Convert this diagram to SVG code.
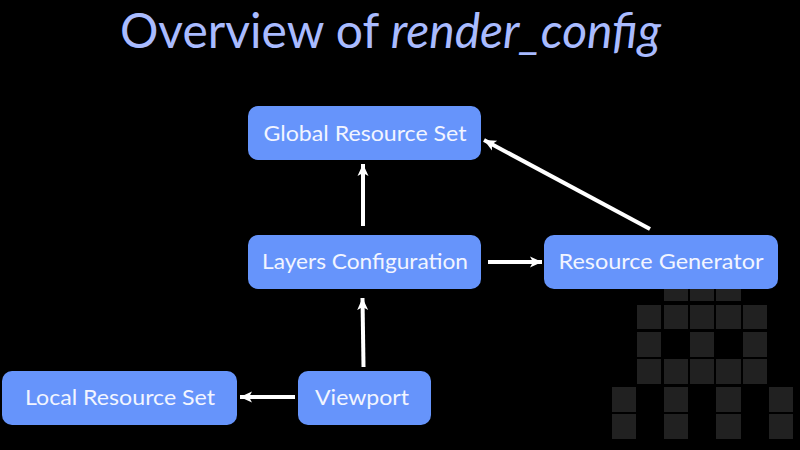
<svg xmlns="http://www.w3.org/2000/svg" width="800" height="450" viewBox="0 0 800 450">
<style>
.box{fill:#6694fb}
.lbl{font-family:"Lato","Noto Sans",sans-serif;font-size:22px;fill:#f2f5ff;text-anchor:middle}
.pix{fill:#212121}
.ln{stroke:#fff;stroke-width:4;fill:none;marker-end:url(#a)}
</style>
<defs>
<marker id="a" markerUnits="userSpaceOnUse" markerWidth="14" markerHeight="14" refX="12" refY="7" orient="auto">
<path d="M0 1.5L12 7L0 12.5L3 7Z" fill="#fff"/>
</marker>
</defs>
<rect width="800" height="450" fill="#000"/>
<g id="watermark">
<rect class="pix" x="664" y="278" width="24" height="23"/><rect class="pix" x="690" y="278" width="24" height="23"/><rect class="pix" x="716" y="278" width="25" height="23"/>
<rect class="pix" x="637" y="305" width="24" height="24"/><rect class="pix" x="664" y="305" width="24" height="24"/><rect class="pix" x="690" y="305" width="24" height="24"/><rect class="pix" x="716" y="305" width="25" height="24"/><rect class="pix" x="743" y="305" width="24" height="24"/>
<rect class="pix" x="637" y="332" width="24" height="25"/><rect class="pix" x="690" y="332" width="24" height="25"/><rect class="pix" x="743" y="332" width="24" height="25"/>
<rect class="pix" x="637" y="359" width="24" height="25"/><rect class="pix" x="664" y="359" width="24" height="25"/><rect class="pix" x="690" y="359" width="24" height="25"/><rect class="pix" x="716" y="359" width="25" height="25"/><rect class="pix" x="743" y="359" width="24" height="25"/>
<rect class="pix" x="612" y="387" width="24" height="25"/><rect class="pix" x="664" y="387" width="24" height="25"/><rect class="pix" x="716" y="387" width="25" height="25"/><rect class="pix" x="769" y="387" width="24" height="25"/>
<rect class="pix" x="612" y="414" width="24" height="25"/><rect class="pix" x="664" y="414" width="24" height="25"/><rect class="pix" x="716" y="414" width="25" height="25"/><rect class="pix" x="769" y="414" width="24" height="25"/>
</g>
<text id="title" x="120" y="48" font-family="Lato,'Noto Sans',sans-serif" font-size="48" fill="#a9bbff" textLength="541" lengthAdjust="spacingAndGlyphs">Overview of <tspan font-style="italic">render_config</tspan></text>
<g id="connectors">
<path class="ln" d="M363 226V164"/>
<path class="ln" d="M650 229L484 140"/>
<path class="ln" d="M488 262H542"/>
<path class="ln" d="M363.500 367L362.500 298"/>
<path class="ln" d="M295 397H240"/>
</g>
<g id="global"><rect class="box" x="248" y="106" width="233" height="54" rx="10"/><text class="lbl" x="365" y="141" textLength="203" lengthAdjust="spacingAndGlyphs">Global Resource Set</text></g>
<g id="layers"><rect class="box" x="248" y="235" width="233" height="54" rx="10"/><text class="lbl" x="365" y="269" textLength="206" lengthAdjust="spacingAndGlyphs">Layers Configuration</text></g>
<g id="generator"><rect class="box" x="544" y="235" width="234" height="54" rx="10"/><text class="lbl" x="661" y="269" textLength="205" lengthAdjust="spacingAndGlyphs">Resource Generator</text></g>
<g id="viewport"><rect class="box" x="298" y="371" width="133" height="54" rx="10"/><text class="lbl" x="362" y="405" textLength="94" lengthAdjust="spacingAndGlyphs">Viewport</text></g>
<g id="local"><rect class="box" x="2" y="371" width="235" height="54" rx="10"/><text class="lbl" x="120" y="405" textLength="190" lengthAdjust="spacingAndGlyphs">Local Resource Set</text></g>
</svg>
